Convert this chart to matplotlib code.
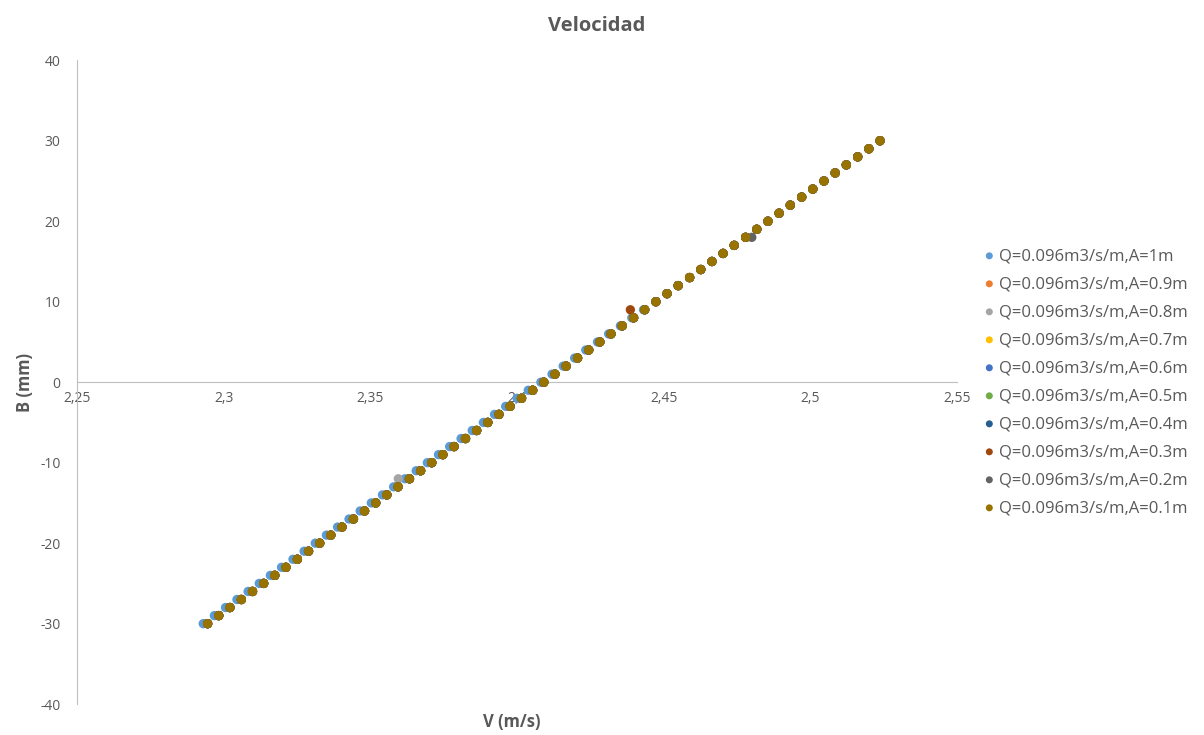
import matplotlib
matplotlib.use("Agg")
import matplotlib.pyplot as plt
from matplotlib.ticker import FuncFormatter

plt.rcParams['font.family'] = ['Open Sans', 'DejaVu Sans']
plt.rcParams['axes.unicode_minus'] = False

# B (mm) de -30 a 30
b_mm = list(range(-30, 31))

# Velocidad, serie A=0.1m (la que queda encima)
v_a01 = [2.2945, 2.2983, 2.3021, 2.3060, 2.3098, 2.3136, 2.3174, 2.3212, 2.3251, 2.3289,
         2.3327, 2.3365, 2.3403, 2.3442, 2.3480, 2.3518, 2.3556, 2.3594, 2.3633, 2.3671,
         2.3709, 2.3747, 2.3785, 2.3824, 2.3862, 2.3900, 2.3938, 2.3976, 2.4015, 2.4053,
         2.4091, 2.4129, 2.4167, 2.4206, 2.4244, 2.4282, 2.4320, 2.4358, 2.4397, 2.4435,
         2.4473, 2.4511, 2.4549, 2.4588, 2.4626, 2.4664, 2.4702, 2.4740, 2.4779, 2.4817,
         2.4855, 2.4893, 2.4931, 2.4970, 2.5008, 2.5046, 2.5084, 2.5122, 2.5161, 2.5199,
         2.5237]

# Serie A=1m, algo desplazada a la izquierda en la parte baja
v_a1 = [2.2930, 2.2968, 2.3006, 2.3045, 2.3083, 2.3121, 2.3159, 2.3197, 2.3236, 2.3274,
        2.3312, 2.3350, 2.3388, 2.3427, 2.3465, 2.3503, 2.3541, 2.3579, 2.3618, 2.3656,
        2.3694, 2.3732, 2.3770, 2.3809, 2.3847, 2.3885, 2.3923, 2.3961, 2.4000, 2.4038,
        2.4081, 2.4119, 2.4157, 2.4196, 2.4234, 2.4274, 2.4312, 2.4352, 2.4391, 2.4431,
        2.4473, 2.4511, 2.4549, 2.4588, 2.4626, 2.4664, 2.4702, 2.4740, 2.4779, 2.4817,
        2.4855, 2.4893, 2.4931, 2.4970, 2.5008, 2.5046, 2.5084, 2.5122, 2.5161, 2.5199,
        2.5237]

# Puntos que se salen de la línea (B, velocidad)
outlier_a08 = (-12, 2.3595)
outlier_a03 = (9, 2.4386)
outlier_a02 = (18, 2.4800)

labels = ['Q=0.096m3/s/m,A=1m', 'Q=0.096m3/s/m,A=0.9m', 'Q=0.096m3/s/m,A=0.8m',
          'Q=0.096m3/s/m,A=0.7m', 'Q=0.096m3/s/m,A=0.6m', 'Q=0.096m3/s/m,A=0.5m',
          'Q=0.096m3/s/m,A=0.4m', 'Q=0.096m3/s/m,A=0.3m', 'Q=0.096m3/s/m,A=0.2m',
          'Q=0.096m3/s/m,A=0.1m']
colors = ['#5B9BD5', '#ED7D31', '#A5A5A5', '#FFC000', '#4472C4', '#70AD47',
          '#255E91', '#9E480E', '#636363', '#997300']


def with_outlier(base, outlier):
    v = list(base)
    b_val, vel = outlier
    v[b_mm.index(b_val)] = vel
    return v


series = [
    (b_mm, v_a1),
    (b_mm, v_a01),
    (b_mm, with_outlier(v_a01, outlier_a08)),
    (b_mm, v_a01),
    (b_mm, v_a01),
    (b_mm, v_a01),
    (b_mm, v_a01),
    (b_mm, with_outlier(v_a01, outlier_a03)),
    (b_mm, with_outlier(v_a01, outlier_a02)),
    (b_mm, v_a01),
]

txt = '#595959'
axis_col = '#BFBFBF'

fig = plt.figure(figsize=(12.04, 7.35), dpi=100)
ax = fig.add_axes([0.064, 0.042, 0.731, 0.876])

for (b, v), lab, col in zip(series, labels, colors):
    ax.scatter(v, b, s=45, color=col, edgecolors='none', label=lab, zorder=3)

ax.set_xlim(2.25, 2.55)
ax.set_ylim(-40, 40)
ax.set_xticks([2.25, 2.3, 2.35, 2.4, 2.45, 2.5, 2.55])
ax.set_yticks(range(-40, 41, 10))
ax.xaxis.set_major_formatter(FuncFormatter(lambda x, p: ('%g' % round(x, 2)).replace('.', ',')))

ax.spines['top'].set_visible(False)
ax.spines['right'].set_visible(False)
ax.spines['bottom'].set_position(('data', 0))
ax.spines['bottom'].set_color(axis_col)
ax.spines['left'].set_color(axis_col)
ax.tick_params(axis='both', length=0, colors=txt, labelsize=10)
ax.tick_params(axis='x', pad=6)
ax.tick_params(axis='y', pad=12)

ax.set_ylabel('B (mm)', fontsize=12, fontweight='bold', color=txt, labelpad=4)
fig.text(0.425, 0.018, 'V (m/s)', ha='center', va='center', fontsize=12,
         fontweight='bold', color=txt)
fig.suptitle('Velocidad', x=0.496, y=0.978, fontsize=14.5, fontweight='bold', color=txt)

leg = ax.legend(loc='center left', bbox_to_anchor=(1.01, 0.50), frameon=False,
                fontsize=12, labelspacing=0.72, handletextpad=0.1, markerscale=0.75,
                handlelength=1.0)
for t in leg.get_texts():
    t.set_color(txt)

fig.savefig('out.png', dpi=100)
